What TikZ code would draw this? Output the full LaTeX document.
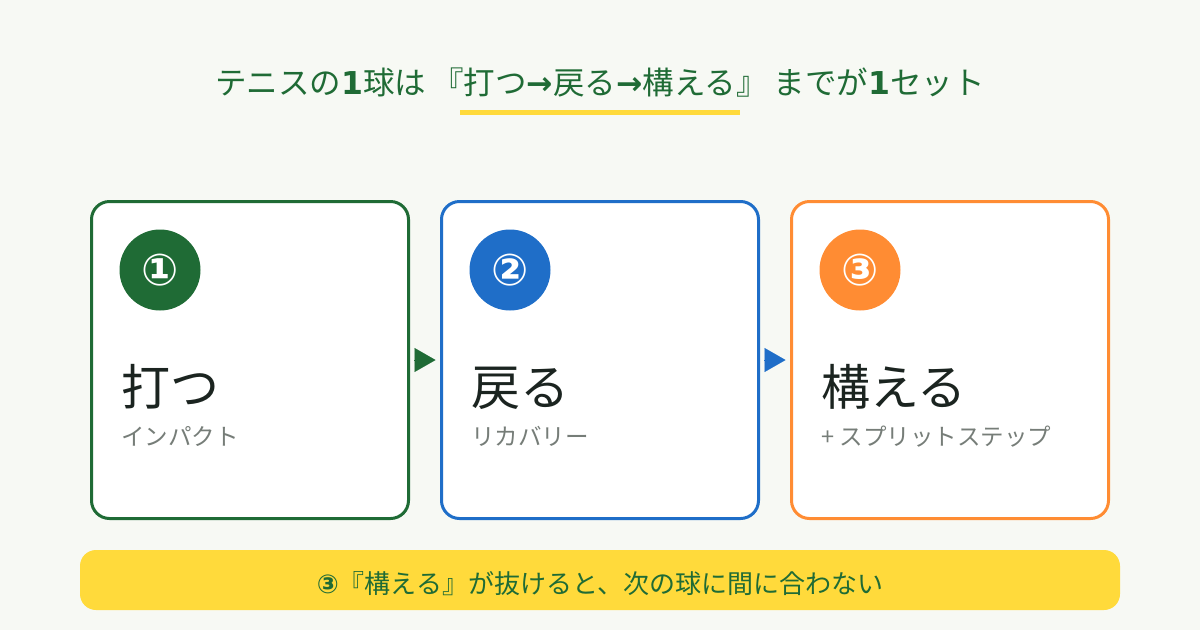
\documentclass[tikz,border=0pt]{standalone}
\usepackage{fontspec}
\setmainfont{DejaVu Sans}
\newfontfamily\jpfont{Noto Sans CJK JP}
\usepackage{xcolor}
\usetikzlibrary{arrows.meta}
\usetikzlibrary{positioning}

\definecolor{bgcol}{HTML}{F7F9F4}
\definecolor{tgreen}{HTML}{1F6B35}
\definecolor{tblue}{HTML}{1F6EC8}
\definecolor{torange}{HTML}{FF8C33}
\definecolor{tyellow}{HTML}{FFDA3B}
\definecolor{inkcol}{HTML}{1B2420}
\definecolor{subcol}{HTML}{767D78}

\newcommand{\fsz}[1]{\fontsize{#1}{#1}\selectfont}
\newcommand{\bfdj}[1]{{\normalfont\bfseries #1}}

\begin{document}
\begin{tikzpicture}[x=1pt,y=-1pt]

	\tikzstyle{card} = [rectangle,draw,line width=3pt,rounded corners=18pt,fill=white,minimum width=317pt,minimum height=317pt,inner sep=0pt]
	\tikzstyle{badge} = [circle,minimum size=81pt,inner sep=0pt,text=white,font=\bfseries\fsz{44}]
	\tikzstyle{mainlbl} = [anchor=base west,inner sep=0pt,text=inkcol,font=\jpfont\fsz{49}]
	\tikzstyle{sublbl} = [anchor=base west,inner sep=0pt,text=subcol,font=\jpfont\fsz{23.5}]
	\tikzstyle{flow} = [-{Triangle[length=21pt,width=24pt]},line width=0.1pt,shorten <=4pt,shorten >=4.5pt]
	\tikzstyle{banner} = [rectangle,fill=tyellow,rounded corners=16pt,minimum width=1040pt,minimum height=60pt,inner sep=0pt,text=tgreen,font=\jpfont\fsz{26},text height=26pt,text depth=0pt]

	\fill[bgcol] (0,0) rectangle (1200,630);
	\useasboundingbox (0,0) rectangle (1200,630);

	\node[anchor=base,inner sep=0pt,text=tgreen,font=\jpfont\fsz{31.5}] (title) at (600,94)
		{テニスの\bfdj{1}球は\hspace{6pt}『打つ\bfdj{→}戻る\bfdj{→}構える』\hspace{6pt}までが\bfdj{1}セット};
	\fill[tyellow] (460,110) rectangle (740,115);

	\node[card,draw=tgreen] (c1) at (250,360) {};
	\node[card,draw=tblue] (c2) at (600,360) {};
	\node[card,draw=torange] (c3) at (950,360) {};

	\node[badge,fill=tgreen] (n1) at (160,270) {①};
	\node[badge,fill=tblue] (n2) at (510,270) {②};
	\node[badge,fill=torange] (n3) at (860,270) {③};

	\node[mainlbl] (t1) at (121,405) {打つ};
	\node[mainlbl] (t2) at (471,405) {戻る};
	\node[mainlbl] (t3) at (821,405) {構える};

	\node[sublbl] (s1) at (121,445) {インパクト};
	\node[sublbl] (s2) at (471,445) {リカバリー};
	\node[sublbl] (s3) at (821,445) {+ スプリットステップ};

	\draw[flow,tgreen] (c1) -- (c2);
	\draw[flow,tblue] (c2) -- (c3);

	\node[banner] (note) at (600,580) {\bfdj{③}『構える』が抜けると、次の球に間に合わない};

\end{tikzpicture}
\end{document}
